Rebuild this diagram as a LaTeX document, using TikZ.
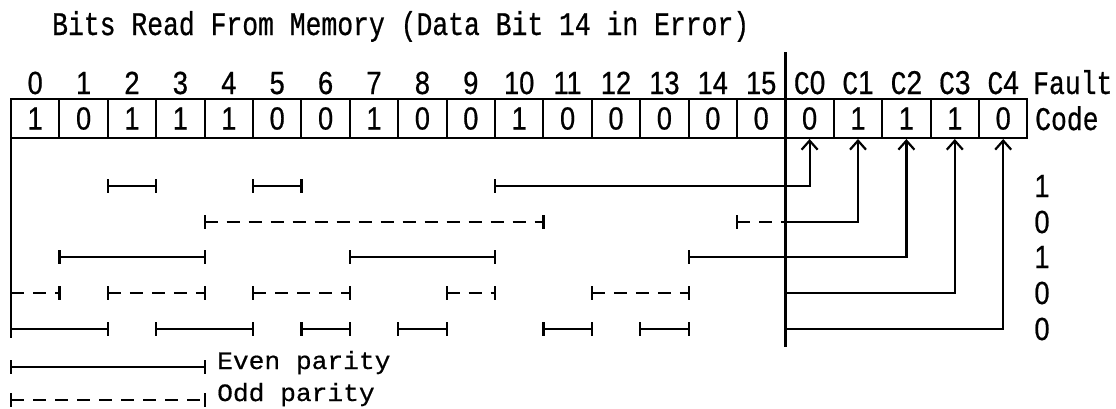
\documentclass[tikz,border=0pt]{standalone}
\usepackage{fontspec}
\usetikzlibrary{arrows.meta}
\newfontfamily\mainf[FakeStretch=0.8,FakeBold=0.6]{Liberation Mono}
\newfontfamily\legf[FakeStretch=1.05,FakeBold=0.5]{Liberation Mono}
\newfontfamily\digf[FakeStretch=0.85,FakeBold=0.6]{Liberation Sans}
\newcommand\cx[1]{{11+48.4*(#1)}}
% segment: style, y, from cell boundary, to cell boundary
\newcommand\seg[4]{%
  \draw[#1] (\cx{#3},#2) -- (\cx{#4},#2);
  \draw[ln] (\cx{#3},#2-7) -- ++(0,14);
  \draw[ln] (\cx{#4},#2-7) -- ++(0,14);}
\begin{document}
\begin{tikzpicture}[x=1pt,y=-1pt,
  ln/.style={line width=2.2pt},
  dsh/.style={ln,dash pattern=on 13pt off 9pt},
  lbl/.style={inner sep=0pt,anchor=base,font=\mainf\fontsize{33}{33}\selectfont},
  dlbl/.style={inner sep=0pt,anchor=base,font=\digf\fontsize{32}{32}\selectfont},
  cell/.style={draw,line width=2pt,minimum width=48.4pt,minimum height=39pt,inner sep=0pt,font=\digf\fontsize{32}{32}\selectfont},
  leg/.style={inner sep=0pt,anchor=base west,font=\legf\fontsize{25}{25}\selectfont},
  arr/.style={ln,-{Straight Barb[length=9pt,width=16pt]}}]
\useasboundingbox (0,0) rectangle (1116,408);
\fill[white] (0,0) rectangle (1116,408);
% title
\node[lbl,anchor=base west] (title) at (52,35) {Bits Read From Memory (Data Bit 14 in Error)};
% register
\foreach \v [count=\i from 0] in {1,0,1,1,1,0,0,1,0,0,1,0,0,0,0,0} {
  \node[cell] (d\i) at (\cx{\i+0.5},118.5) {\v};
  \node[dlbl] (n\i) at (\cx{\i+0.5},94) {\i};
}
\foreach \v [count=\i from 0] in {0,1,1,1,0} {
  \node[cell] (c\i) at (\cx{16+\i+0.5},118.5) {\v};
  \node[lbl] (cn\i) at (\cx{16+\i+0.5},94) {C{\digf\i}};
}
\node[lbl,anchor=base west] (fault) at (1033,94) {Fault};
\node[lbl,anchor=base west] (code) at (1035,130) {Code};
% divider and left line
\coordinate (dtop) at (\cx{16},52);
\coordinate (dbot) at (\cx{16},347);
\draw[line width=3.2pt] (dtop) -- (dbot);
\coordinate (ltop) at (11,138);
\coordinate (lbot) at (11,338);
\draw[ln] (ltop) -- (lbot);
% row 1 (C0)
\seg{ln}{186}{2}{3}
\seg{ln}{186}{5}{6}
\coordinate (r1) at (\cx{10},186);
\draw[ln] (r1) ++(0,-7) -- ++(0,14);
\draw[arr] (r1) -| (c0.south);
% row 2 (C1)
\seg{dsh}{222}{4}{11}
\coordinate (r2a) at (\cx{15},222);
\coordinate (r2b) at (\cx{16},222);
\draw[ln] (r2a) ++(0,-7) -- ++(0,14);
\draw[dsh] (r2a) -- (r2b);
\draw[arr] (r2b) -| (c1.south);
% row 3 (C2)
\seg{ln}{257}{1}{4}
\seg{ln}{257}{7}{10}
\coordinate (r3) at (\cx{14},257);
\draw[ln] (r3) ++(0,-7) -- ++(0,14);
\draw[arr] (r3) -| (c2.south);
% row 4 (C3)
\seg{dsh}{293}{0}{1}
\seg{dsh}{293}{2}{4}
\seg{dsh}{293}{5}{7}
\seg{dsh}{293}{9}{10}
\seg{dsh}{293}{12}{14}
\coordinate (r4) at (\cx{16},293);
\draw[arr] (r4) -| (c3.south);
% row 5 (C4)
\seg{ln}{329}{0}{2}
\seg{ln}{329}{3}{5}
\seg{ln}{329}{6}{7}
\seg{ln}{329}{8}{9}
\seg{ln}{329}{11}{12}
\seg{ln}{329}{13}{14}
\coordinate (r5) at (\cx{16},329);
\draw[arr] (r5) -| (c4.south);
% fault code column
\foreach \v/\y [count=\k] in {1/186,0/222,1/257,0/293,0/329}
  \node[inner sep=0pt,font=\digf\fontsize{32}{32}\selectfont] (f\k) at (1042,\y) {\v};
% legend
\seg{ln}{367}{0}{4}
\seg{dsh}{400}{0}{4}
\node[leg] (even) at (217,369) {Even parity};
\node[leg] (odd) at (217,401) {Odd parity};
\end{tikzpicture}
\end{document}
